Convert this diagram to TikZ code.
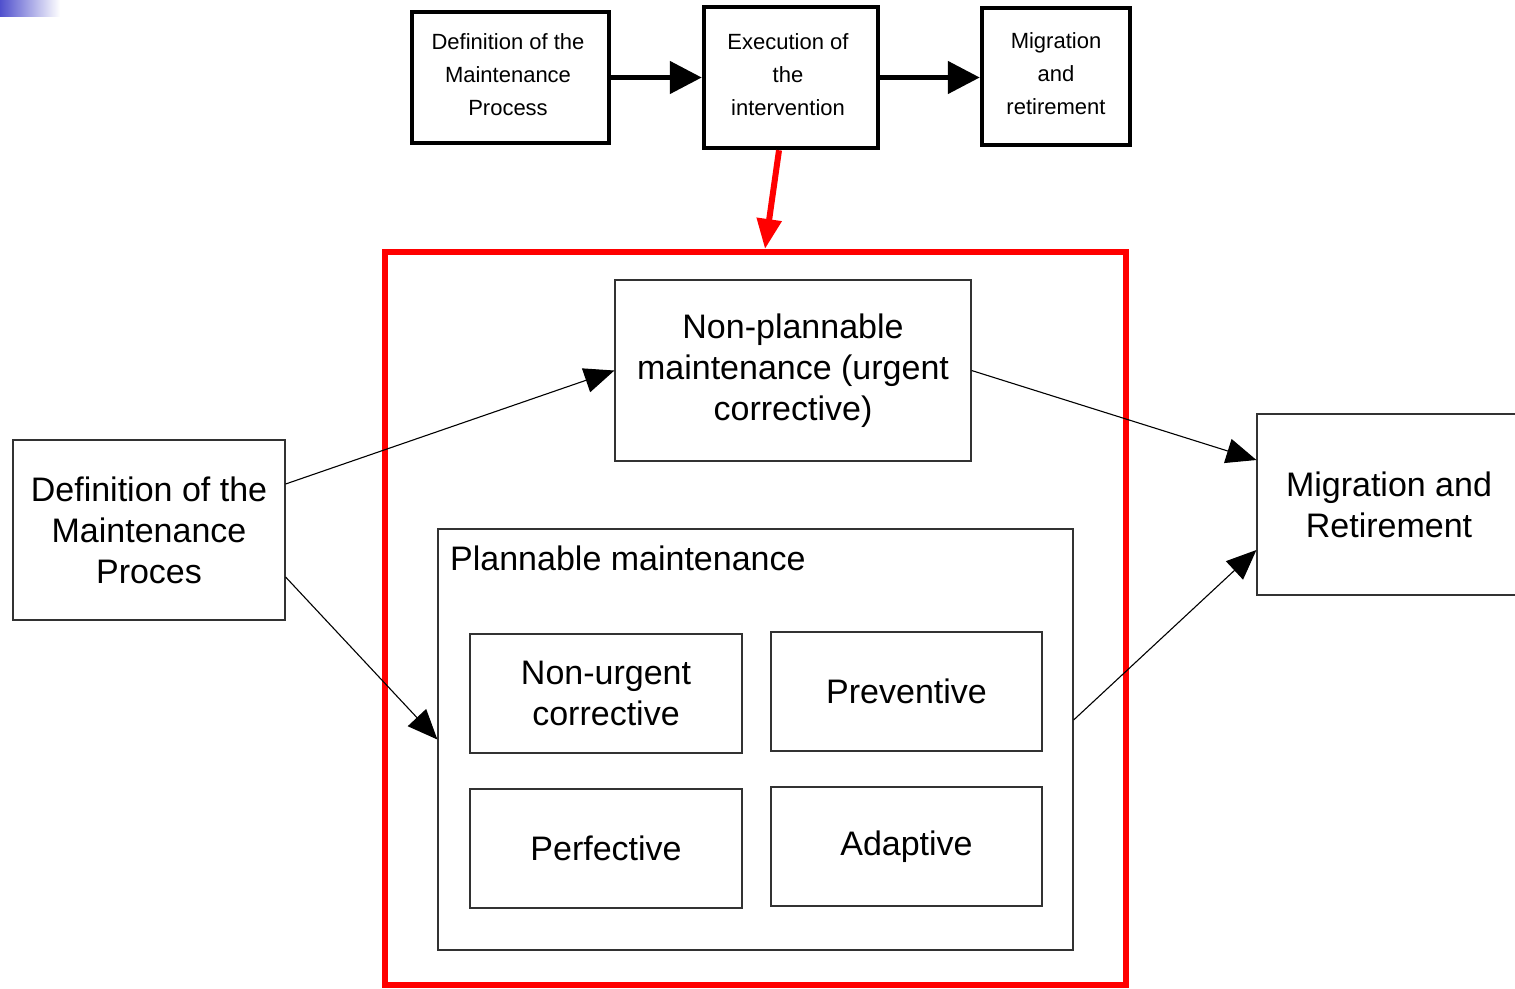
\documentclass[tikz,border=0pt]{standalone}
\usepackage{fontspec}
\setmainfont{Liberation Sans}
\usetikzlibrary{arrows.meta,calc}
\definecolor{gradblue}{RGB}{80,80,205}
\definecolor{thinline}{RGB}{50,50,50}
\tikzset{
  topbox/.style={draw=black, line width=4.5pt, inner sep=0pt, align=center,
    font=\fontsize{22}{33}\selectfont},
  thinbox/.style={draw=thinline, line width=1.2pt, inner sep=0pt, align=center,
    font=\fontsize{34}{41}\selectfont},
  toptext/.style={inner sep=0pt, align=center, font=\fontsize{22}{33}\selectfont},
  toparrow/.style={line width=5pt, -{Triangle[length=32pt,width=32pt]}},
  thinarrow/.style={line width=1.1pt, -{Triangle[length=30pt,width=25pt]}},
  redarrow/.style={draw=red, line width=6pt, -{Triangle[length=30pt,width=24pt]}},
}
\begin{document}
\begin{tikzpicture}[x=1pt,y=-1pt]
\path[use as bounding box, clip] (0,0) rectangle (1515,988);
\fill[left color=gradblue, right color=white] (0,0) rectangle (60,16);

% top row
\node[topbox, minimum width=197pt, minimum height=131pt] (A) at (510.5,77.5) {};
\node[toptext] (At) at (508,75) {Definition of the\\Maintenance\\Process};
\node[topbox, minimum width=174pt, minimum height=141pt] (B) at (791,77.5) {};
\node[toptext] (Bt) at (788,75) {Execution of\\the\\intervention};
\node[topbox, minimum width=148pt, minimum height=137pt] (C) at (1056,76.5) {};
\node[toptext] (Ct) at (1056,74) {Migration\\and\\retirement};
\draw[toparrow] (A.east) -- (B.west |- A.east);
\draw[toparrow] (B.east) -- (C.west |- B.east);

% red box
\node[draw=red, line width=6pt, minimum width=741pt, minimum height=733pt, inner sep=0pt] (R) at (755.5,618.5) {};
\draw[redarrow] ([xshift=-12pt]B.south) -- ([xshift=9.5pt]R.north);

% main nodes
\node[thinbox, minimum width=272pt, minimum height=180pt] (L) at (149,530) {Definition of the\\Maintenance\\Proces};
\node[thinbox, minimum width=356pt, minimum height=181pt] (NP) at (793,370.5) {Non-plannable\\maintenance (urgent\\corrective)};
\node[thinbox, minimum width=264pt, minimum height=181pt] (M) at (1389,504.5) {Migration and\\Retirement};
\node[thinbox, minimum width=635pt, minimum height=421pt] (P) at (755.5,739.5) {};
\node[anchor=base west, inner sep=0pt, font=\fontsize{34}{41}\selectfont] (PL) at (450,570) {Plannable maintenance};
\node[thinbox, minimum width=272pt, minimum height=119pt] (NU) at (606,693.5) {Non-urgent\\corrective};
\node[thinbox, minimum width=271pt, minimum height=119pt] (PV) at (906.5,691.5) {Preventive};
\node[thinbox, minimum width=272pt, minimum height=119pt] (PF) at (606,848.5) {Perfective};
\node[thinbox, minimum width=271pt, minimum height=119pt] (AD) at (906.5,846.5) {Adaptive};

% connectors
\draw[thinarrow] ([yshift=46pt]L.east) -- (NP.west);
\draw[thinarrow] ([yshift=-47pt]L.east) -- (P.west);
\draw[thinarrow] (NP.east) -- ([yshift=44.5pt]M.west);
\draw[thinarrow] ([yshift=19.5pt]P.east) -- ([yshift=-45.5pt]M.west);
\end{tikzpicture}
\end{document}
